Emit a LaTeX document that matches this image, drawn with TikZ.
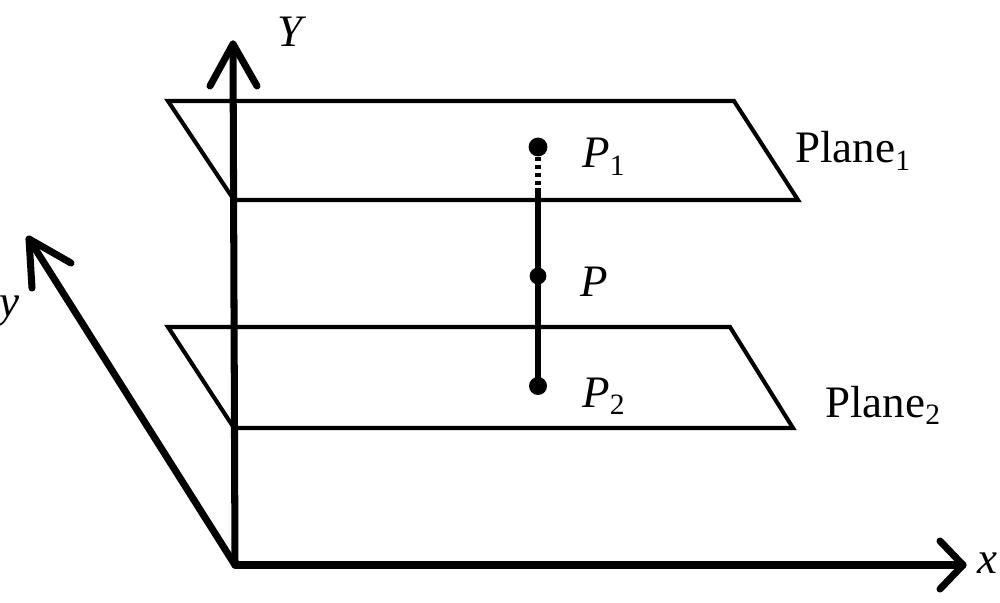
\documentclass[tikz,border=0pt]{standalone}
\usepackage{fontspec}
\setmainfont{Liberation Serif}
\newcommand\lblsub[1]{\raisebox{-0.16em}{\fontsize{21}{24}\selectfont #1}}
\begin{document}
\begin{tikzpicture}[x=0.025cm,y=-0.025cm,
  planeline/.style={line width=2.9pt,line join=miter},
  axisline/.style={line width=5pt,line cap=round,line join=round},
  segline/.style={line width=4.6pt},
  dotline/.style={line width=3.6pt,dash pattern=on 3pt off 2.8pt},
  ptdot/.style={circle,fill=black,inner sep=0pt,minimum size=#1},
  lbl/.style={font=\fontsize{32}{38}\selectfont,inner sep=0pt,anchor=base west}]
\useasboundingbox (0,0) rectangle (1000,603);
% coordinates
\coordinate (O) at (235,565);
\coordinate (Ytip) at (233,44);
\coordinate (xtip) at (963,565);
\coordinate (ytip) at (29,239);
% planes
\draw[planeline] (168,101) -- (734,101) -- (798,200) -- (234,200) -- cycle;
\draw[planeline] (168,327) -- (730,327) -- (793,428) -- (234,428) -- cycle;
% axes
\draw[axisline] (O) -- (Ytip);
\draw[axisline] (210,86) -- (Ytip) -- (257,86);
\draw[axisline] (O) -- (xtip);
\draw[axisline] (940,541) -- (xtip) -- (940,589);
\draw[axisline] (O) -- (ytip);
\draw[axisline] (32,288) -- (ytip) -- (71,263);
% points
\node[ptdot=0.47cm] (P1) at (538,147) {};
\node[ptdot=0.42cm] (P) at (538,276) {};
\node[ptdot=0.45cm] (P2) at (538,386) {};
\coordinate (D) at (538,188);
\draw[dotline] (P1) -- (D);
\draw[segline] (D) -- (P2.center);
% labels
\node[lbl] (LY) at (277,47) {\textit{Y}};
\node[lbl] (Lx) at (977,573) {\textit{x}};
\node[lbl] (Ly) at (-1,317) {\textit{y}};
\node[lbl] (LP1) at (582,168) {\textit{P}\lblsub{1}};
\node[lbl] (LP) at (580,297) {\textit{P}};
\node[lbl] (LP2) at (582,407) {\textit{P}\lblsub{2}};
\node[lbl] (LPl1) at (795,163) {Plane\lblsub{1}};
\node[lbl] (LPl2) at (825,417) {Plane\lblsub{2}};
\end{tikzpicture}
\end{document}
